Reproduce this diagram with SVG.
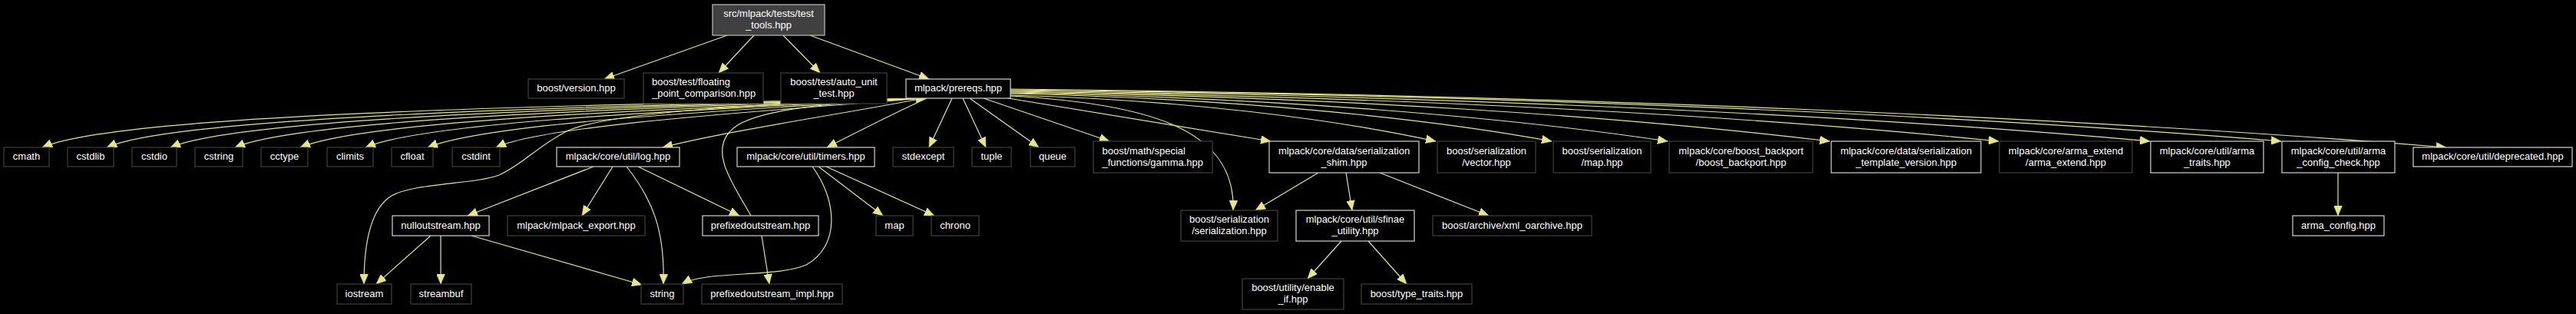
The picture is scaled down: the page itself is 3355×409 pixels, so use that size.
<svg xmlns="http://www.w3.org/2000/svg" width="3355" height="409" viewBox="0 0 3355 409">
<style>
.bg{fill:#000}
.n rect{fill:#000;stroke:#404040;stroke-width:1.2}
.n.l rect{stroke:#d4d4d4}
.n.m rect{fill:#404040;stroke:#bfbfbf}
text{font-family:"Liberation Sans",Arial,sans-serif;font-size:13px;fill:#fff;text-anchor:middle}
text.s{text-anchor:start}
.e path{fill:none;stroke:#e6e68f;stroke-width:1.2;marker-end:url(#a)}
</style>
<defs>
<marker id="a" viewBox="0 0 13 11" refX="13" refY="5.5" markerWidth="13" markerHeight="11" markerUnits="userSpaceOnUse" orient="auto">
<path d="M0,0 L13,5.5 L0,11 z" fill="#e6e68f" stroke="#e6e68f" stroke-width="0.5"/>
</marker>
</defs>
<rect class="bg" x="0" y="0" width="3355" height="409"/>

<g id="edges" class="e">
<path d="M947,46 L787,103"/>
<path d="M982,46 L936,95"/>
<path d="M1020,46 L1068,95"/>
<path d="M1055,46 L1210,103"/>
<path d="M1198,128 C800,136 160,146 55,192"/>
<path d="M1198,128 C850,137 240,148 139,192"/>
<path d="M1199,128 C880,138 320,150 222,192"/>
<path d="M1199,128 C900,139 400,152 306,192"/>
<path d="M1200,128 C930,140 480,154 391,192"/>
<path d="M1200,128 C960,141 560,156 476,192"/>
<path d="M1201,128 C990,142 640,158 557,192"/>
<path d="M1202,128 C1020,143 710,162 646,192"/>
<path d="M1203,128 C1100,148 950,170 863,192"/>
<path d="M1207,128 C1170,145 1120,170 1077,192"/>
<path d="M1240,128 L1210,192"/>
<path d="M1254,128 L1284,192"/>
<path d="M1263,128 L1353,192"/>
<path d="M1281,128 L1445,184"/>
<path d="M1313,128 L1655,184"/>
<path d="M1195,128 C1000,135 800,145 740,170 C700,190 680,215 650,228 C620,240 540,238 510,255 C485,270 474,310 474,370"/>
<path d="M1316,125 C1500,135 1610,170 1606,274"/>
<path d="M1316,124 C1538,130 1732,154 1870,184"/>
<path d="M1316,122 C1598,128 1855,153 2021,184"/>
<path d="M1316,121 C1658,127 1958,152 2172,184"/>
<path d="M1316,120 C1743,126 2116,152 2383,184"/>
<path d="M1316,119 C1831,126 2281,151 2603,184"/>
<path d="M1316,118 C1910,125 2429,151 2800,184"/>
<path d="M1316,117 C1978,124 2557,150 2971,184"/>
<path d="M1316,116 C2064,124 2718,154 3186,192"/>
<path d="M978,281 C955,240 925,200 950,172 C975,140 1100,133 1206,128"/>
<path d="M773,217 L609,281"/>
<path d="M798,217 L758,281"/>
<path d="M816,217 C850,260 866,300 864,370"/>
<path d="M831,217 L963,281"/>
<path d="M561,307 L490,370"/>
<path d="M574,307 L574,370"/>
<path d="M614,307 L836,371"/>
<path d="M1066,217 L1150,281"/>
<path d="M1076,217 L1217,281"/>
<path d="M1058,217 C1090,260 1095,320 1050,345 C1010,362 920,352 888,370"/>
<path d="M992,307 L1002,370"/>
<path d="M1717,225 L1635,274"/>
<path d="M1753,225 L1761,274"/>
<path d="M1797,225 L1939,281"/>
<path d="M1747,314 L1703,363"/>
<path d="M1782,314 L1832,370"/>
<path d="M3045,225 L3045,281"/>
</g>

<g id="n_test_tools" class="n m"><rect x="928" y="6" width="146" height="40"/><text x="1001" y="22">src/mlpack/tests/test</text><text x="1001" y="37">_tools.hpp</text></g>
<g id="n_version" class="n"><rect x="688" y="103" width="125" height="25"/><text x="750.5" y="119">boost/version.hpp</text></g>
<g id="n_floating" class="n"><rect x="838" y="95" width="156" height="40"/><text class="s" x="849" y="111">boost/test/floating</text><text class="s" x="849" y="126">_point_comparison.hpp</text></g>
<g id="n_auto_unit" class="n"><rect x="1017" y="95" width="138" height="40"/><text x="1086" y="111">boost/test/auto_unit</text><text x="1086" y="126">_test.hpp</text></g>
<g id="n_prereqs" class="n l"><rect x="1180" y="103" width="136" height="25"/><text x="1248" y="119">mlpack/prereqs.hpp</text></g>

<g id="n_cmath" class="n"><rect x="5" y="192" width="59" height="25"/><text x="34.5" y="208">cmath</text></g>
<g id="n_cstdlib" class="n"><rect x="88" y="192" width="60" height="25"/><text x="118" y="208">cstdlib</text></g>
<g id="n_cstdio" class="n"><rect x="172" y="192" width="58" height="25"/><text x="201" y="208">cstdio</text></g>
<g id="n_cstring" class="n"><rect x="254" y="192" width="62" height="25"/><text x="285" y="208">cstring</text></g>
<g id="n_cctype" class="n"><rect x="340" y="192" width="61" height="25"/><text x="370.5" y="208">cctype</text></g>
<g id="n_climits" class="n"><rect x="426" y="192" width="60" height="25"/><text x="456" y="208">climits</text></g>
<g id="n_cfloat" class="n"><rect x="510" y="192" width="54" height="25"/><text x="537" y="208">cfloat</text></g>
<g id="n_cstdint" class="n"><rect x="589" y="192" width="62" height="25"/><text x="620" y="208">cstdint</text></g>
<g id="n_log" class="n l"><rect x="725" y="192" width="160" height="25"/><text x="805" y="208">mlpack/core/util/log.hpp</text></g>
<g id="n_timers" class="n l"><rect x="960" y="192" width="179" height="25"/><text x="1049.5" y="208">mlpack/core/util/timers.hpp</text></g>
<g id="n_stdexcept" class="n"><rect x="1163" y="192" width="79" height="25"/><text x="1202.5" y="208">stdexcept</text></g>
<g id="n_tuple" class="n"><rect x="1266" y="192" width="51" height="25"/><text x="1291.5" y="208">tuple</text></g>
<g id="n_queue" class="n"><rect x="1342" y="192" width="58" height="25"/><text x="1371" y="208">queue</text></g>
<g id="n_gamma" class="n"><rect x="1424" y="184" width="155" height="41"/><text class="s" x="1435.5" y="200.5">boost/math/special</text><text class="s" x="1435.5" y="215.5">_functions/gamma.hpp</text></g>
<g id="n_shim" class="n l"><rect x="1653" y="184" width="195" height="41"/><text x="1750.5" y="200.5">mlpack/core/data/serialization</text><text x="1750.5" y="215.5">_shim.hpp</text></g>
<g id="n_vector" class="n"><rect x="1872" y="184" width="128" height="41"/><text x="1936" y="200.5">boost/serialization</text><text x="1936" y="215.5">/vector.hpp</text></g>
<g id="n_mapser" class="n"><rect x="2023" y="184" width="127" height="41"/><text x="2086.5" y="200.5">boost/serialization</text><text x="2086.5" y="215.5">/map.hpp</text></g>
<g id="n_backport" class="n"><rect x="2174" y="184" width="187" height="41"/><text x="2267.5" y="200.5">mlpack/core/boost_backport</text><text x="2267.5" y="215.5">/boost_backport.hpp</text></g>
<g id="n_tmplver" class="n l"><rect x="2385" y="184" width="195" height="41"/><text x="2482.5" y="200.5">mlpack/core/data/serialization</text><text x="2482.5" y="215.5">_template_version.hpp</text></g>
<g id="n_armaext" class="n"><rect x="2604" y="184" width="173" height="41"/><text x="2690.5" y="200.5">mlpack/core/arma_extend</text><text x="2690.5" y="215.5">/arma_extend.hpp</text></g>
<g id="n_armatraits" class="n l"><rect x="2801" y="184" width="147" height="41"/><text x="2874.5" y="200.5">mlpack/core/util/arma</text><text x="2874.5" y="215.5">_traits.hpp</text></g>
<g id="n_armacfgchk" class="n l"><rect x="2972" y="184" width="147" height="41"/><text x="3045.5" y="200.5">mlpack/core/util/arma</text><text x="3045.5" y="215.5">_config_check.hpp</text></g>
<g id="n_deprecated" class="n l"><rect x="3143" y="192" width="207" height="25"/><text x="3246.5" y="208">mlpack/core/util/deprecated.hpp</text></g>

<g id="n_nullout" class="n l"><rect x="511" y="281" width="126" height="26"/><text x="574" y="297.5">nulloutstream.hpp</text></g>
<g id="n_export" class="n"><rect x="661" y="281" width="179" height="26"/><text x="750.5" y="297.5">mlpack/mlpack_export.hpp</text></g>
<g id="n_prefixed" class="n l"><rect x="915" y="281" width="151" height="26"/><text x="990.5" y="297.5">prefixedoutstream.hpp</text></g>
<g id="n_map" class="n"><rect x="1141" y="281" width="48" height="26"/><text x="1165" y="297.5">map</text></g>
<g id="n_chrono" class="n"><rect x="1213" y="281" width="62" height="26"/><text x="1244" y="297.5">chrono</text></g>
<g id="n_serial" class="n"><rect x="1538" y="274" width="126" height="40"/><text x="1601" y="290">boost/serialization</text><text x="1601" y="305">/serialization.hpp</text></g>
<g id="n_sfinae" class="n l"><rect x="1688" y="274" width="154" height="40"/><text x="1765" y="290">mlpack/core/util/sfinae</text><text x="1765" y="305">_utility.hpp</text></g>
<g id="n_xml" class="n"><rect x="1866" y="281" width="207" height="26"/><text x="1969.5" y="297.5">boost/archive/xml_oarchive.hpp</text></g>
<g id="n_armacfg" class="n l"><rect x="2986" y="281" width="119" height="26"/><text x="3045.5" y="297.5">arma_config.hpp</text></g>

<g id="n_iostream" class="n"><rect x="439" y="370" width="71" height="26"/><text x="474.5" y="386.5">iostream</text></g>
<g id="n_streambuf" class="n"><rect x="535" y="370" width="79" height="26"/><text x="574.5" y="386.5">streambuf</text></g>
<g id="n_string" class="n"><rect x="835" y="370" width="55" height="26"/><text x="862.5" y="386.5">string</text></g>
<g id="n_prefimpl" class="n"><rect x="914" y="370" width="183" height="26"/><text x="1005.5" y="386.5">prefixedoutstream_impl.hpp</text></g>
<g id="n_enableif" class="n"><rect x="1618" y="363" width="132" height="40"/><text x="1684" y="379">boost/utility/enable</text><text x="1684" y="394">_if.hpp</text></g>
<g id="n_typetraits" class="n"><rect x="1773" y="370" width="144" height="26"/><text x="1845" y="386.5">boost/type_traits.hpp</text></g>
</svg>
